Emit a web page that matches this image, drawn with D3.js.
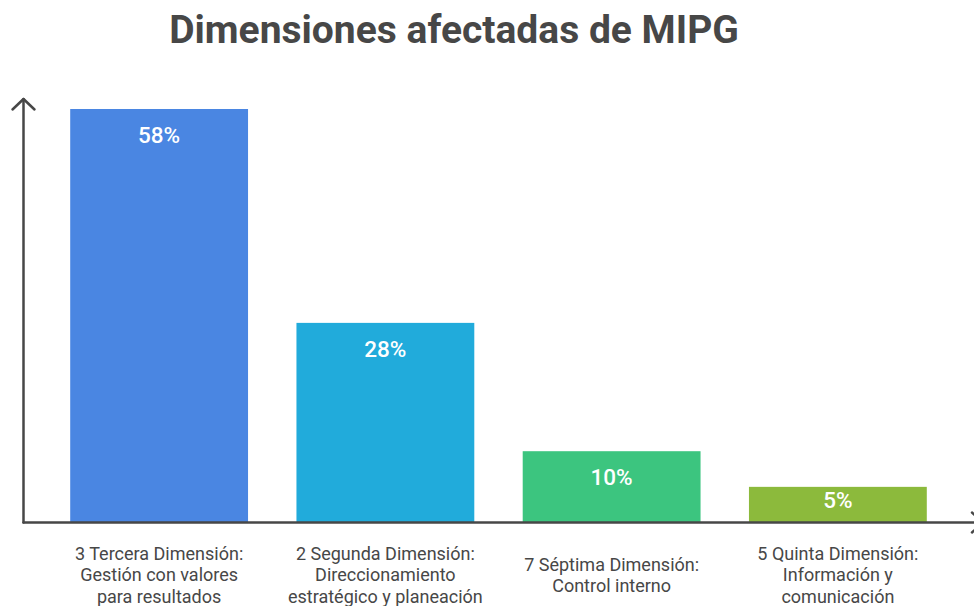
<!DOCTYPE html>
<html>
<head>
<meta charset="utf-8">
<script src="https://cdn.jsdelivr.net/npm/d3@7/dist/d3.min.js"></script>
<style>
  html, body { margin: 0; padding: 0; background: #ffffff; }
  svg { display: block; font-family: Roboto, "Noto Sans", sans-serif; }
</style>
</head>
<body>
<svg id="chart" width="974" height="606"></svg>
<script>
// Share of affected MIPG dimensions
const categories = [
  ["3 Tercera Dimensión:", "Gestión con valores", "para resultados"],
  ["2 Segunda Dimensión:", "Direccionamiento", "estratégico y planeación"],
  ["7 Séptima Dimensión:", "Control interno"],
  ["5 Quinta Dimensión:", "Información y", "comunicación"]
];
const values = [58, 28, 10, 5];
const colors = ["#4a86e2", "#21abdb", "#3cc57f", "#8cba3c"];
const title = "Dimensiones afectadas de MIPG";

const svg = d3.select("#chart");
const axisColor = "#474747";
const baseY = 522.5, topY = 109, axisX = 23.5;

const x = d3.scaleBand()
  .domain(d3.range(values.length))
  .range([46, 951])
  .paddingInner(0.214)
  .paddingOuter(0.107);

const y = d3.scaleLinear()
  .domain([0, d3.max(values)])
  .range([baseY, topY]);

// Title
svg.append("text")
  .attr("x", 454)
  .attr("y", 43)
  .attr("text-anchor", "middle")
  .attr("font-size", 39)
  .attr("font-weight", 700)
  .attr("fill", axisColor)
  .text(title);

// Bars
svg.selectAll("rect.bar")
  .data(values)
  .join("rect")
  .attr("class", "bar")
  .attr("x", (d, i) => x(i))
  .attr("y", d => y(d))
  .attr("width", x.bandwidth())
  .attr("height", d => baseY - y(d))
  .attr("fill", (d, i) => colors[i]);

// Value labels inside the bars
svg.selectAll("text.val")
  .data(values)
  .join("text")
  .attr("class", "val")
  .attr("x", (d, i) => x(i) + x.bandwidth() / 2)
  .attr("y", d => {
    const h = baseY - y(d);
    return y(d) + Math.min(26, h * 0.36);
  })
  .attr("dy", "0.36em")
  .attr("text-anchor", "middle")
  .attr("font-size", 22.5)
  .attr("font-weight", 500)
  .attr("fill", "#ffffff")
  .text(d => d + "%");

// Axes with open arrowheads
const axes = svg.append("g")
  .attr("stroke", axisColor)
  .attr("stroke-width", 2.5)
  .attr("fill", "none")
  .attr("stroke-linecap", "round")
  .attr("stroke-linejoin", "round");

axes.append("path").attr("d", `M${axisX},${baseY} L${axisX},99`);
axes.append("path").attr("d", `M${axisX - 11},109.5 L${axisX},99 L${axisX + 11},109.5`);
axes.append("path").attr("d", `M${axisX},${baseY} L983,${baseY}`);
axes.append("path").attr("d", `M972,${baseY - 10} L983,${baseY} L972,${baseY + 10}`);

// Category labels, vertically centred under each bar
const lineH = 21.5;
const labelMid = 575;
const lab = svg.selectAll("text.cat")
  .data(categories)
  .join("text")
  .attr("class", "cat")
  .attr("x", (d, i) => x(i) + x.bandwidth() / 2)
  .attr("text-anchor", "middle")
  .attr("font-size", 18)
  .attr("fill", axisColor);

lab.each(function(lines) {
  const t = d3.select(this);
  const start = labelMid - (lines.length - 1) * lineH / 2;
  lines.forEach((ln, k) => {
    t.append("tspan")
      .attr("x", t.attr("x"))
      .attr("y", start + k * lineH)
      .attr("dy", "0.36em")
      .text(ln);
  });
});
</script>
</body>
</html>
